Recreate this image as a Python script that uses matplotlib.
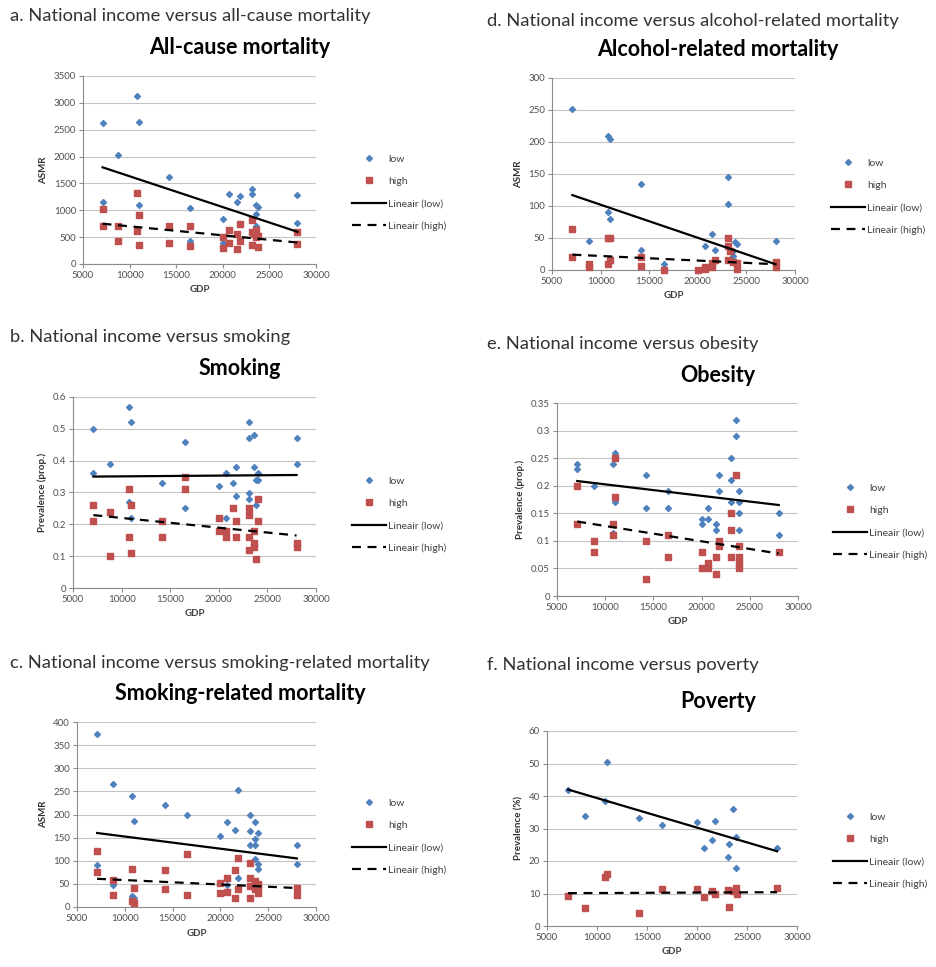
import matplotlib
matplotlib.use("Agg")
import matplotlib.pyplot as plt
from matplotlib.lines import Line2D
from matplotlib.ticker import FuncFormatter, MultipleLocator

plt.rcParams["font.family"] = ["Lato", "DejaVu Sans"]

# ---- data ----
trend_gdp = [7100, 28000]

allcause_low_gdp = [7100, 7100, 8800, 10800, 11000, 11000, 14200, 16500, 16500, 20000, 20000,
                    20700, 21500, 21800, 23100, 23100, 23600, 23800, 23600, 23600, 28000, 28000]
allcause_low = [2620, 1150, 2025, 3125, 2640, 1106, 1625, 1050, 420, 830, 395,
                1295, 1145, 1260, 1395, 1295, 1106, 1060, 940, 705, 1290, 760]
allcause_high_gdp = [7100, 7100, 8800, 8800, 10800, 11000, 10800, 11000, 14200, 14200, 16500, 16500,
                     20000, 20000, 20700, 20700, 21500, 21500, 21800, 21800, 23100, 23100, 23100,
                     23300, 23600, 23800, 23800, 23600, 28000, 28000]
allcause_high = [1025, 700, 710, 420, 1325, 906, 612, 345, 712, 394, 712, 337,
                 300, 500, 625, 400, 280, 560, 750, 430, 812, 590, 345,
                 560, 500, 530, 325, 625, 590, 375]
allcause_trend_low = [1800, 600]
allcause_trend_high = [750, 400]

alcohol_low_gdp = [7100, 8800, 10800, 11000, 10800, 11000, 14200, 14200, 16500, 20700, 21500,
                   21800, 23100, 23100, 23800, 24000, 23600, 23600, 28000]
alcohol_low = [251, 45, 210, 205, 90, 79, 134, 32, 10, 37, 57, 32, 145, 103, 43, 40, 22, 30, 46]
alcohol_high_gdp = [7100, 7100, 8800, 8800, 10800, 11000, 10800, 11000, 14200, 14200, 16500, 20000,
                    20700, 20700, 21500, 21800, 21500, 23100, 23100, 23100, 23300, 23600, 24000,
                    24000, 28000, 28000]
alcohol_high = [64, 21, 10, 4, 50, 50, 10, 15, 21, 7, 0, 0, 2, 5, 4, 15, 11, 50, 38, 15, 30, 12, 11,
                2, 13, 4]
alcohol_trend_low = [117, 9]
alcohol_trend_high = [24, 9]

smoking_low_gdp = [7100, 7100, 8800, 10800, 11000, 10800, 11000, 14200, 16500, 16500, 20000, 20700,
                   20700, 21500, 21800, 21800, 23100, 23100, 23600, 23600, 23100, 23100, 24000,
                   23800, 24000, 23800, 28000, 28000]
smoking_low = [0.50, 0.36, 0.39, 0.57, 0.52, 0.27, 0.22, 0.33, 0.46, 0.25, 0.32, 0.36,
               0.22, 0.33, 0.38, 0.29, 0.52, 0.47, 0.48, 0.38, 0.30, 0.28, 0.36,
               0.34, 0.34, 0.26, 0.47, 0.39]
smoking_high_gdp = [7100, 7100, 8800, 8800, 10800, 11000, 10800, 11000, 14200, 14200, 16500, 16500,
                    20000, 20000, 20700, 20700, 21500, 21800, 21800, 23100, 23100, 23100, 23100,
                    23600, 23600, 23600, 23800, 24000, 24000, 28000, 28000]
smoking_high = [0.26, 0.21, 0.24, 0.10, 0.31, 0.26, 0.16, 0.11, 0.21, 0.16, 0.35, 0.31,
                0.22, 0.18, 0.18, 0.16, 0.25, 0.21, 0.16, 0.25, 0.23, 0.16, 0.12,
                0.18, 0.14, 0.13, 0.09, 0.28, 0.21, 0.14, 0.13]
smoking_trend_low = [0.35, 0.355]
smoking_trend_high = [0.229, 0.165]

obesity_low_gdp = [7100, 7100, 8800, 10800, 11000, 11000, 10800, 14200, 14200, 16500, 16500,
                   20000, 20000, 20700, 20700, 21500, 21500, 21800, 21800, 23100, 23100, 23100,
                   23600, 23600, 23900, 23900, 23900, 23900, 28000, 28000]
obesity_low = [0.24, 0.23, 0.20, 0.24, 0.26, 0.17, 0.115, 0.22, 0.16, 0.19, 0.16,
               0.14, 0.13, 0.14, 0.16, 0.13, 0.12, 0.22, 0.19, 0.25, 0.21, 0.17,
               0.32, 0.29, 0.19, 0.15, 0.12, 0.17, 0.15, 0.11]
obesity_high_gdp = [7100, 7100, 8800, 8800, 11000, 11000, 10800, 10800, 14200, 14200, 16500, 16500,
                    20000, 20000, 20700, 20700, 21500, 21500, 21800, 21800, 23100, 23100, 23100,
                    23600, 23900, 23900, 23900, 23900, 28000]
obesity_high = [0.20, 0.13, 0.10, 0.08, 0.25, 0.18, 0.13, 0.11, 0.10, 0.03, 0.11, 0.07,
                0.08, 0.05, 0.06, 0.05, 0.07, 0.04, 0.10, 0.09, 0.15, 0.12, 0.07,
                0.22, 0.09, 0.07, 0.06, 0.05, 0.08]
obesity_trend_low = [0.2085, 0.165]
obesity_trend_high = [0.135, 0.077]

smokrel_low_gdp = [7100, 7100, 8800, 8800, 10800, 11000, 10800, 11000, 14200, 16500, 20000, 20700,
                   21500, 21800, 21800, 20700, 23100, 23100, 23100, 23600, 23600, 23600, 23900,
                   23600, 23900, 23900, 28000, 28000]
smokrel_low = [375, 90, 267, 48, 239, 185, 23, 20, 220, 198, 153, 184,
               166, 254, 62, 47, 200, 164, 133, 184, 146, 133, 160,
               104, 92, 83, 133, 93]
smokrel_high_gdp = [7100, 7100, 8800, 8800, 10800, 11000, 10800, 11000, 14200, 14200, 16500, 16500,
                    20000, 20000, 20700, 20700, 21500, 21500, 21800, 21800, 23100, 23100, 23100,
                    23100, 23600, 23600, 23900, 23900, 23900, 28000, 28000]
smokrel_high = [121, 75, 59, 25, 82, 41, 14, 9, 79, 38, 114, 27,
                30, 52, 63, 32, 80, 19, 105, 38, 96, 63, 45,
                19, 56, 38, 49, 30, 41, 41, 27]
smokrel_trend_low = [160, 105]
smokrel_trend_high = [61, 41]

poverty_low_gdp = [7100, 8800, 11000, 10800, 14200, 16500, 20000, 20700, 21500, 21800, 23100, 23200,
                   23600, 23900, 23900, 28000]
poverty_low = [42, 34, 50.5, 38.6, 33.3, 31.2, 31.9, 24, 26.4, 32.4, 21.3, 25.3, 35.9, 27.3, 17.9, 24]
poverty_high_gdp = [7100, 8800, 10800, 11000, 14200, 16500, 20000, 20700, 21500, 21800, 23100, 23200,
                    23600, 23900, 24000, 28000]
poverty_high = [9.2, 5.5, 15, 16, 4.1, 11.3, 11.5, 9, 10.7, 10, 11, 5.9, 10.9, 11.6, 10, 11.6]
poverty_trend_low = [42, 23]
poverty_trend_high = [10.1, 10.4]

# ---- layout (pixels in a 937 x 967 figure) ----
W, H = 937, 967
BLUE = "#4F81BD"
RED = "#C0504D"

panels = [
    dict(caption="a. National income versus all-cause mortality", title="All-cause mortality",
         ylabel="ASMR", ymax=3500, ystep=500,
         low=(allcause_low_gdp, allcause_low), high=(allcause_high_gdp, allcause_high),
         trend=(allcause_trend_low, allcause_trend_high),
         box=(83, 76, 316, 264), cap=(10, 16), tit=(240, 48), leg=(352, 158)),
    dict(caption="d. National income versus alcohol-related mortality", title="Alcohol-related mortality",
         ylabel="ASMR", ymax=300, ystep=50,
         low=(alcohol_low_gdp, alcohol_low), high=(alcohol_high_gdp, alcohol_high),
         trend=(alcohol_trend_low, alcohol_trend_high),
         box=(552, 78, 795, 270), cap=(487, 21), tit=(718, 50), leg=(831, 162)),
    dict(caption="b. National income versus smoking", title="Smoking",
         ylabel="Prevalence (prop.)", ymax=0.6, ystep=0.1,
         low=(smoking_low_gdp, smoking_low), high=(smoking_high_gdp, smoking_high),
         trend=(smoking_trend_low, smoking_trend_high),
         box=(73, 397, 316, 588), cap=(10, 337), tit=(240, 368), leg=(352, 480)),
    dict(caption="e. National income versus obesity", title="Obesity",
         ylabel="Prevalence (prop.)", ymax=0.35, ystep=0.05,
         low=(obesity_low_gdp, obesity_low), high=(obesity_high_gdp, obesity_high),
         trend=(obesity_trend_low, obesity_trend_high),
         box=(557, 403, 798, 596), cap=(487, 344), tit=(718, 375), leg=(833, 487)),
    dict(caption="c. National income versus smoking-related mortality", title="Smoking-related mortality",
         ylabel="ASMR", ymax=400, ystep=50,
         low=(smokrel_low_gdp, smokrel_low), high=(smokrel_high_gdp, smokrel_high),
         trend=(smokrel_trend_low, smokrel_trend_high),
         box=(77, 722, 316, 907), cap=(10, 663), tit=(240, 693), leg=(352, 802)),
    dict(caption="f. National income versus poverty", title="Poverty",
         ylabel="Prevalence (%)", ymax=60, ystep=10,
         low=(poverty_low_gdp, poverty_low), high=(poverty_high_gdp, poverty_high),
         trend=(poverty_trend_low, poverty_trend_high),
         box=(547, 731, 797, 926), cap=(487, 665), tit=(718, 702), leg=(833, 816)),
]

fig = plt.figure(figsize=(W / 100, H / 100), dpi=100)
fig.patch.set_facecolor("white")

for p in panels:
    l, t, r, b = p["box"]
    ax = fig.add_axes([l / W, 1 - b / H, (r - l) / W, (b - t) / H])

    ax.scatter(p["low"][0], p["low"][1], marker="D", s=9, color=BLUE, zorder=3,
               clip_on=False, label="low")
    ax.scatter(p["high"][0], p["high"][1], marker="s", s=22, color=RED, zorder=3,
               clip_on=False, label="high")
    ax.plot(trend_gdp, p["trend"][0], color="black", lw=1.6, zorder=4, label="Lineair (low)")
    ax.plot(trend_gdp, p["trend"][1], color="black", lw=1.6, ls=(0, (4, 3)), zorder=4,
            label="Lineair (high)")

    ax.set_xlim(5000, 30000)
    ax.set_ylim(0, p["ymax"])
    ax.xaxis.set_major_locator(MultipleLocator(5000))
    ax.yaxis.set_major_locator(MultipleLocator(p["ystep"]))
    ax.yaxis.set_major_formatter(FuncFormatter(lambda v, pos: "%g" % round(v, 3)))
    ax.grid(axis="y", color="#C4C4C4", lw=0.8)
    ax.set_axisbelow(True)
    for side in ["top", "right"]:
        ax.spines[side].set_visible(False)
    for side in ["left", "bottom"]:
        ax.spines[side].set_color("#8C8C8C")
        ax.spines[side].set_linewidth(0.8)
    ax.tick_params(axis="both", labelsize=7, colors="#8C8C8C", labelcolor="#505050",
                   length=3, width=0.8, pad=2)

    ax.set_xlabel("GDP", fontsize=7, fontweight="bold", color="#404040", labelpad=4)
    ax.set_ylabel(p["ylabel"], fontsize=7, fontweight="bold", color="#303030", labelpad=4)

    fig.text(p["cap"][0] / W, 1 - p["cap"][1] / H, p["caption"], fontsize=13.2,
             color="#333333", va="center", ha="left")
    fig.text(p["tit"][0] / W, 1 - p["tit"][1] / H, p["title"], fontsize=15.5,
             fontweight="bold", color="black", va="center", ha="center")

    handles = [
        Line2D([], [], ls="none", marker="D", ms=3, color=BLUE),
        Line2D([], [], ls="none", marker="s", ms=4.5, color=RED),
        Line2D([], [], color="black", lw=1.6),
        Line2D([], [], color="black", lw=1.6, ls=(0, (4, 3))),
    ]
    labels = ["low", "high", "Lineair (low)", "Lineair (high)"]
    lx, ly = p["leg"]
    fig.legend(handles, labels, loc="center left",
               bbox_to_anchor=(lx / W, 1 - (ly + 34.5) / H),
               frameon=False, fontsize=7.5, labelspacing=1.25, handlelength=3.3,
               handletextpad=0.15, borderpad=0, borderaxespad=0, labelcolor="#404040")

fig.savefig("out.png", dpi=100)
